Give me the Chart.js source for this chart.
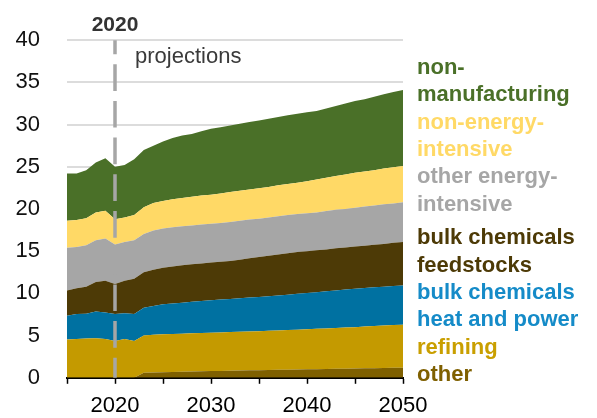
<!DOCTYPE html>
<html>
<head>
<meta charset="utf-8">
<script src="https://cdn.jsdelivr.net/npm/chart.js@4.4.1/dist/chart.umd.min.js"></script>
<style>
  html, body { margin: 0; padding: 0; background: #fff; }
  #wrap { position: relative; width: 597px; height: 418px; }
</style>
</head>
<body>
<div id="wrap"><canvas id="c" width="597" height="418"></canvas></div>
<script>
// ---- data (quadrillion Btu) ----
const years = [];
for (let y = 2015; y <= 2050; y++) years.push(y);

const other = [0,0,0,0,0,0,0,0,0.6,0.63,0.67,0.7,0.72,0.75,0.77,0.8,0.82,0.84,0.86,0.88,0.9,0.92,0.94,0.96,0.98,1.0,1.02,1.04,1.06,1.08,1.1,1.12,1.14,1.16,1.18,1.2];
const refining = [4.55,4.6,4.65,4.7,4.6,4.35,4.6,4.35,4.4,4.47,4.48,4.5,4.51,4.52,4.53,4.55,4.56,4.58,4.59,4.62,4.63,4.65,4.66,4.69,4.72,4.75,4.78,4.81,4.84,4.87,4.9,4.95,4.99,5.04,5.07,5.1];
const heatPower = [2.8,2.95,2.95,3.15,3.15,3.2,3.05,3.2,3.3,3.4,3.55,3.6,3.67,3.73,3.8,3.85,3.89,3.93,3.97,4.0,4.04,4.08,4.15,4.2,4.25,4.3,4.35,4.4,4.45,4.5,4.55,4.58,4.59,4.6,4.63,4.65];
const feedstocks = [3.0,3.05,3.2,3.5,3.75,3.55,3.85,4.2,4.2,4.3,4.35,4.4,4.45,4.45,4.45,4.45,4.48,4.5,4.58,4.65,4.73,4.8,4.85,4.9,4.95,4.95,4.95,4.95,5.0,5.0,5.0,5.0,5.03,5.05,5.12,5.15];
const otherEnergyIntensive = [5.05,4.9,4.9,4.95,5.0,4.7,4.6,4.55,4.55,4.65,4.65,4.65,4.6,4.6,4.6,4.6,4.6,4.6,4.6,4.6,4.55,4.55,4.55,4.55,4.5,4.5,4.5,4.55,4.55,4.55,4.6,4.65,4.65,4.7,4.65,4.7];
const nonEnergyIntensive = [3.2,3.2,3.2,3.3,3.3,3.0,2.9,3.0,3.15,3.25,3.25,3.3,3.35,3.4,3.45,3.45,3.5,3.55,3.55,3.55,3.6,3.6,3.65,3.65,3.7,3.8,3.9,3.95,4.0,4.1,4.15,4.15,4.2,4.25,4.3,4.3];
const nonManufacturing = [5.6,5.5,5.7,5.9,6.2,6.2,6.2,6.6,6.8,6.8,7.05,7.25,7.4,7.45,7.6,7.8,7.85,7.9,7.95,8.0,8.05,8.1,8.1,8.15,8.2,8.15,8.1,8.2,8.3,8.4,8.5,8.55,8.7,8.8,8.9,9.0];

const yTicks = [0,5,10,15,20,25,30,35,40];
const xTickLabels = [2020, 2030, 2040, 2050];
const projectionYear = 2020;

const legendLines = [
  ['non-', '#4a7028'],
  ['manufacturing', '#4a7028'],
  ['non-energy-', '#ffd966'],
  ['intensive', '#ffd966'],
  ['other energy-', '#a6a6a6'],
  ['intensive', '#a6a6a6'],
  ['bulk chemicals', '#4d3a06'],
  ['feedstocks', '#4d3a06'],
  ['bulk chemicals', '#158bc8'],
  ['heat and power', '#158bc8'],
  ['refining', '#c99f00'],
  ['other', '#7f6000']
];
const legendBaselines = [74, 101.3, 128.6, 155.9, 183.2, 210.5, 244.3, 271.7, 299, 326.4, 353.8, 381.2];

const seriesList = [
  { label: 'other', data: other, color: '#7f6000' },
  { label: 'refining', data: refining, color: '#c49a00' },
  { label: 'bulk chemicals heat and power', data: heatPower, color: '#0071a1' },
  { label: 'bulk chemicals feedstocks', data: feedstocks, color: '#4d3a06' },
  { label: 'other energy-intensive', data: otherEnergyIntensive, color: '#a6a6a6' },
  { label: 'non-energy-intensive', data: nonEnergyIntensive, color: '#ffd966' },
  { label: 'non-manufacturing', data: nonManufacturing, color: '#4a7028' }
];

const FONT = '"Liberation Sans", Arial, Helvetica, sans-serif';

const datasets = seriesList.map((s, i) => ({
  label: s.label,
  data: years.map((yr, k) => ({ x: yr, y: s.data[k] })),
  backgroundColor: s.color,
  borderColor: s.color,
  borderWidth: 0,
  pointRadius: 0,
  pointHoverRadius: 0,
  tension: 0,
  fill: i === 0 ? 'origin' : '-1'
}));

const overlay = {
  id: 'overlay',
  afterDatasetsDraw(chart) {
    const ctx = chart.ctx;
    const area = chart.chartArea;
    const xs = chart.scales.x;
    const px = xs.getPixelForValue(projectionYear);
    ctx.save();
    ctx.strokeStyle = '#a6a6a6';
    ctx.lineWidth = 3.5;
    ctx.setLineDash([26.7, 10]);
    ctx.lineDashOffset = 12.7;
    ctx.beginPath();
    ctx.moveTo(px, area.top);
    ctx.lineTo(px, area.bottom);
    ctx.stroke();
    ctx.restore();
  },
  afterDraw(chart) {
    const ctx = chart.ctx;
    const xs = chart.scales.x;
    const px = xs.getPixelForValue(projectionYear);
    ctx.save();
    ctx.textBaseline = 'alphabetic';
    ctx.fillStyle = '#333333';
    ctx.font = 'bold 21px ' + FONT;
    ctx.textAlign = 'center';
    ctx.fillText(String(projectionYear), px, 31);
    ctx.font = '22px ' + FONT;
    ctx.textAlign = 'left';
    ctx.fillStyle = '#3a3a3a';
    ctx.fillText('projections', px + 20, 63);
    ctx.font = 'bold 22px ' + FONT;
    legendLines.forEach((ln, i) => {
      ctx.fillStyle = ln[1];
      ctx.fillText(ln[0], 417, legendBaselines[i]);
    });
    ctx.restore();
  }
};

new Chart(document.getElementById('c'), {
  type: 'line',
  data: { datasets },
  options: {
    responsive: false,
    animation: false,
    events: [],
    layout: { padding: { left: 0, right: 194, top: 38, bottom: 0 } },
    plugins: { legend: { display: false }, tooltip: { enabled: false }, filler: { propagate: false } },
    scales: {
      x: {
        type: 'linear',
        min: 2015,
        max: 2050,
        afterFit(scale) { scale.height = 37; },
        afterBuildTicks(scale) {
          const t = [];
          for (let v = 2015; v <= 2050; v += 5) t.push({ value: v });
          scale.ticks = t;
        },
        ticks: {
          autoSkip: false,
          maxRotation: 0,
          padding: 9,
          color: '#000',
          font: { family: FONT, size: 22 },
          callback: (v) => xTickLabels.includes(v) ? String(v) : ''
        },
        grid: { display: true, drawOnChartArea: false, drawTicks: true, tickLength: 6, tickWidth: 1.5, tickColor: '#000' },
        border: { display: true, color: '#000', width: 2 }
      },
      y: {
        stacked: true,
        min: 0,
        max: 40,
        afterFit(scale) { scale.width = 67; },
        afterBuildTicks(scale) { scale.ticks = yTicks.map(v => ({ value: v })); },
        ticks: {
          padding: 27,
          color: '#111',
          font: { family: FONT, size: 22 },
          callback: (v) => String(v)
        },
        grid: { color: '#dcdcdc', lineWidth: 2, drawTicks: false },
        border: { display: false }
      }
    }
  },
  plugins: [overlay]
});
</script>
</body>
</html>
